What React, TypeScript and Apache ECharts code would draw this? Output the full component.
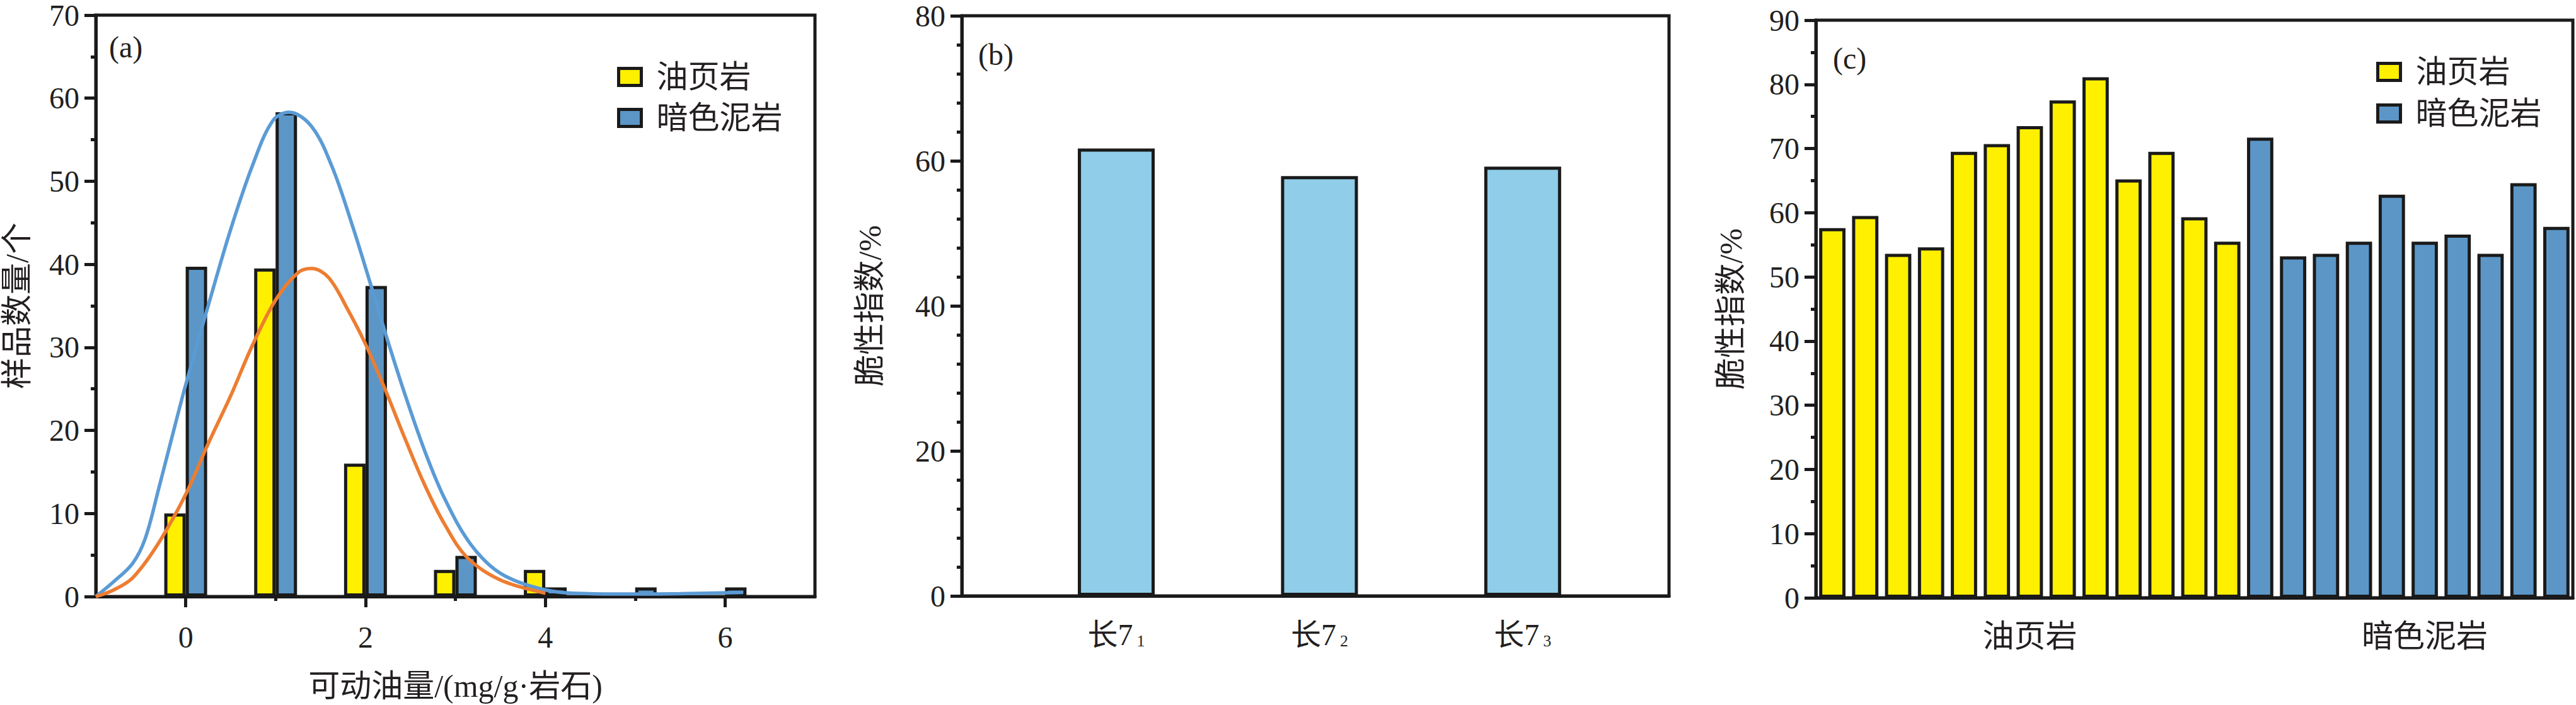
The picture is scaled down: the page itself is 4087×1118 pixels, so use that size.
import React, { useEffect, useRef } from 'react';
import * as echarts from 'echarts';

// ---------- panel (a) ----------
const aCategories = ['-1', '0', '1', '2', '3', '4', '5', '6', '7'];
const aMajorTicks = ['0', '2', '4', '6'];
const aMinorTicks = ['1', '3', '5'];
const aOilShaleCounts = ['-', 10, 39.5, 16, 3.2, 3.2, '-', '-', '-'];
const aMudstoneCounts = ['-', 39.7, 58.3, 37.4, 4.9, 1.1, 1.1, 1.1, '-'];
const aOilShaleFit = [
  [-1, 0], [-0.8, 0.8], [-0.59, 2.25], [-0.31, 6.3], [0, 12.3], [0.25, 18.4], [0.51, 24.4],
  [0.74, 30.2], [1.0, 35.7], [1.25, 39.0], [1.4, 39.5], [1.59, 38.4], [1.81, 34.4], [2.0, 30.4],
  [2.22, 24.9], [2.44, 19.0], [2.66, 13.4], [2.88, 8.7], [3.13, 4.7], [3.5, 2.0], [4.0, 0.4],
];
const aMudstoneFit = [
  [-1, 0], [-0.8, 1.8], [-0.59, 4.0], [-0.45, 7.0], [-0.3, 13.0], [-0.15, 19.3], [0, 25.5],
  [0.25, 35.0], [0.5, 44.2], [0.75, 52.1], [0.97, 57.3], [1.15, 58.3], [1.4, 56.6], [1.63, 51.7],
  [1.85, 44.8], [2.04, 38.2], [2.23, 31.4], [2.44, 24.3], [2.66, 17.5], [2.88, 11.8], [3.17, 6.3],
  [3.5, 2.8], [4.0, 0.8], [4.5, 0.35], [5.0, 0.3], [5.5, 0.35], [6.2, 0.5],
];

// ---------- panel (b) ----------
const bPositions = [1, 2, 3];
const bMain = '长7';
const bSubscripts = ['1', '2', '3'];
const bBrittleness = [61.7, 57.9, 59.2];

// ---------- panel (c) ----------
const cOilShale = [57.6, 59.5, 53.6, 54.6, 69.5, 70.7, 73.5, 77.5, 81.1, 65.2, 69.5, 59.3, 55.5];
const cMudstone = [71.7, 53.2, 53.6, 55.5, 62.8, 55.5, 56.6, 53.6, 64.6, 57.8];
const cGroupLabels = ['油页岩', '暗色泥岩'];

const seriesNames = ['油页岩', '暗色泥岩'];

const FONT = "'Liberation Serif', 'Noto Sans CJK SC', serif";
const INK = '#231F20';
const LINE = '#1A1A1A';
const YELLOW = '#FFF000';
const BLUE = '#5B96C7';
const LIGHTBLUE = '#8FCDE9';
const ORANGE = '#ED7D31';
const CURVEBLUE = '#5B9BD5';

export default function App() {
  const ref = useRef<HTMLDivElement>(null);

  useEffect(() => {
    document.body.style.margin = '0';
    if (!ref.current) return;
    const chart = echarts.init(ref.current, undefined, { renderer: 'svg' });

    const cCategories = [
      ...cOilShale.map((_, i) => 'Y' + (i + 1)),
      ...cMudstone.map((_, i) => 'D' + (i + 1)),
    ];
    const cLabelIdx = [Math.floor(cOilShale.length / 2), cOilShale.length + Math.floor(cMudstone.length / 2)];
    const cYellow = [...cOilShale, ...cMudstone.map(() => '-')];
    const cBlue = [...cOilShale.map(() => '-'), ...cMudstone];

    const axisLine = { show: true, onZero: false, lineStyle: { color: LINE, width: 5 } };
    const tickStyle = { color: LINE, width: 5 };
    const yLabel = { fontSize: 48, fontFamily: FONT, color: INK, margin: 26 };
    const nameStyle = { fontSize: 50, fontFamily: FONT, color: INK };
    const gridBase = { show: true, borderColor: LINE, borderWidth: 5, backgroundColor: 'transparent', containLabel: false };

    const legendBase = {
      orient: 'vertical',
      data: seriesNames,
      icon: 'rect',
      itemWidth: 36,
      itemHeight: 27,
      itemGap: 15,
      selectedMode: false,
      itemStyle: { borderColor: LINE, borderWidth: 5 },
      textStyle: { fontSize: 50, fontFamily: FONT, color: INK, padding: [0, 0, 0, 19] },
    };

    const option: any = {
      animation: false,
      backgroundColor: '#ffffff',
      grid: [
        { ...gridBase, left: 152, top: 19, width: 1141, height: 927 },
        { ...gridBase, left: 1526, top: 25, width: 1122, height: 920 },
        { ...gridBase, left: 2881, top: 32, width: 1201, height: 916 },
      ],
      legend: [
        { ...legendBase, left: 974, top: 92 },
        { ...legendBase, left: 3765, top: 84, itemGap: 16 },
      ],
      graphic: [
        { type: 'text', left: 173, top: 50, style: { text: '(a)', fontSize: 48, fontFamily: FONT, fill: INK } },
        { type: 'text', left: 1552, top: 62, style: { text: '(b)', fontSize: 48, fontFamily: FONT, fill: INK } },
        { type: 'text', left: 2908, top: 68, style: { text: '(c)', fontSize: 48, fontFamily: FONT, fill: INK } },
      ],
      xAxis: [
        {
          gridIndex: 0, type: 'category', data: aCategories, boundaryGap: false, position: 'bottom',
          axisLine,
          axisTick: { show: true, length: 17, lineStyle: tickStyle, interval: (_i: number, v: string) => aMajorTicks.includes(v) },
          axisLabel: { fontSize: 48, fontFamily: FONT, color: INK, margin: 40, interval: (_i: number, v: string) => aMajorTicks.includes(v) },
          splitLine: { show: false },
          name: '可动油量/(mg/g·岩石)', nameLocation: 'middle', nameGap: 117, nameTextStyle: nameStyle,
        },
        {
          gridIndex: 0, type: 'category', data: aCategories, boundaryGap: false, position: 'bottom',
          axisLine: { show: false, onZero: false },
          axisTick: { show: true, length: 7, lineStyle: tickStyle, interval: (_i: number, v: string) => aMinorTicks.includes(v) },
          axisLabel: { show: false },
          splitLine: { show: false },
        },
        { gridIndex: 0, type: 'value', min: -1, max: 7, show: false, splitLine: { show: false } },
        {
          gridIndex: 1, type: 'value', min: 0.24, max: 3.72, position: 'bottom',
          axisLine,
          axisTick: { show: false },
          splitLine: { show: false },
          axisLabel: {
            customValues: bPositions,
            margin: 37,
            formatter: (v: number) => {
              const i = bPositions.indexOf(v);
              return i < 0 ? '' : `{m|${bMain}}{s|${bSubscripts[i]}}`;
            },
            rich: {
              m: { fontSize: 48, fontFamily: FONT, color: INK, lineHeight: 48, verticalAlign: 'bottom' },
              s: { fontSize: 26, fontFamily: FONT, color: INK, lineHeight: 12, verticalAlign: 'bottom', padding: [0, 0, 0, 6] },
            },
          },
        },
        {
          gridIndex: 2, type: 'category', data: cCategories, position: 'bottom',
          axisLine,
          axisTick: { show: false },
          splitLine: { show: false },
          axisLabel: {
            fontSize: 50, fontFamily: FONT, color: INK, margin: 36,
            interval: (i: number) => cLabelIdx.includes(i),
            formatter: (_v: string, i: number) => {
              const k = cLabelIdx.indexOf(i);
              return k < 0 ? '' : cGroupLabels[k];
            },
          },
        },
      ],
      yAxis: [
        {
          gridIndex: 0, type: 'value', min: 0, max: 70, interval: 10,
          axisLine, axisTick: { show: true, length: 18, lineStyle: tickStyle },
          minorTick: { show: true, splitNumber: 2, length: 8, lineStyle: tickStyle },
          splitLine: { show: false }, axisLabel: yLabel,
          name: '样品数量/个', nameLocation: 'middle', nameRotate: 90, nameGap: 100, nameTextStyle: nameStyle,
        },
        {
          gridIndex: 1, type: 'value', min: 0, max: 80, interval: 20,
          axisLine, axisTick: { show: true, length: 18, lineStyle: tickStyle },
          minorTick: { show: true, splitNumber: 5, length: 8, lineStyle: tickStyle },
          splitLine: { show: false }, axisLabel: yLabel,
          name: '脆性指数/%', nameLocation: 'middle', nameRotate: 90, nameGap: 121, nameTextStyle: nameStyle,
        },
        {
          gridIndex: 2, type: 'value', min: 0, max: 90, interval: 10,
          axisLine, axisTick: { show: true, length: 18, lineStyle: tickStyle },
          minorTick: { show: true, splitNumber: 2, length: 8, lineStyle: tickStyle },
          splitLine: { show: false }, axisLabel: yLabel,
          name: '脆性指数/%', nameLocation: 'middle', nameRotate: 90, nameGap: 110, nameTextStyle: nameStyle,
        },
      ],
      series: [
        {
          name: seriesNames[0], type: 'bar', xAxisIndex: 0, yAxisIndex: 0, data: aOilShaleCounts,
          barWidth: 34, barGap: '0%', itemStyle: { color: YELLOW, borderColor: LINE, borderWidth: 5 },
        },
        {
          name: seriesNames[1], type: 'bar', xAxisIndex: 0, yAxisIndex: 0, data: aMudstoneCounts,
          barWidth: 34, barGap: '0%', itemStyle: { color: BLUE, borderColor: LINE, borderWidth: 5 },
        },
        {
          name: '暗色泥岩拟合', type: 'line', xAxisIndex: 2, yAxisIndex: 0, data: aMudstoneFit,
          smooth: 0.35, showSymbol: false, symbol: 'none', z: 5, lineStyle: { color: CURVEBLUE, width: 5.5 },
        },
        {
          name: '油页岩拟合', type: 'line', xAxisIndex: 2, yAxisIndex: 0, data: aOilShaleFit,
          smooth: 0.35, showSymbol: false, symbol: 'none', z: 6, lineStyle: { color: ORANGE, width: 5.5 },
        },
        {
          name: '长7脆性指数', type: 'bar', xAxisIndex: 3, yAxisIndex: 1,
          data: bPositions.map((p, i) => [p, bBrittleness[i]]),
          barWidth: 122, itemStyle: { color: LIGHTBLUE, borderColor: LINE, borderWidth: 5 },
        },
        {
          name: seriesNames[0], type: 'bar', xAxisIndex: 4, yAxisIndex: 2, data: cYellow,
          barWidth: '80%', barGap: '-100%', itemStyle: { color: YELLOW, borderColor: LINE, borderWidth: 5 },
        },
        {
          name: seriesNames[1], type: 'bar', xAxisIndex: 4, yAxisIndex: 2, data: cBlue,
          barWidth: '80%', barGap: '-100%', itemStyle: { color: BLUE, borderColor: LINE, borderWidth: 5 },
        },
      ],
    };

    chart.setOption(option);
    return () => chart.dispose();
  }, []);

  return <div ref={ref} style={{ width: 4087, height: 1118 }} />;
}
